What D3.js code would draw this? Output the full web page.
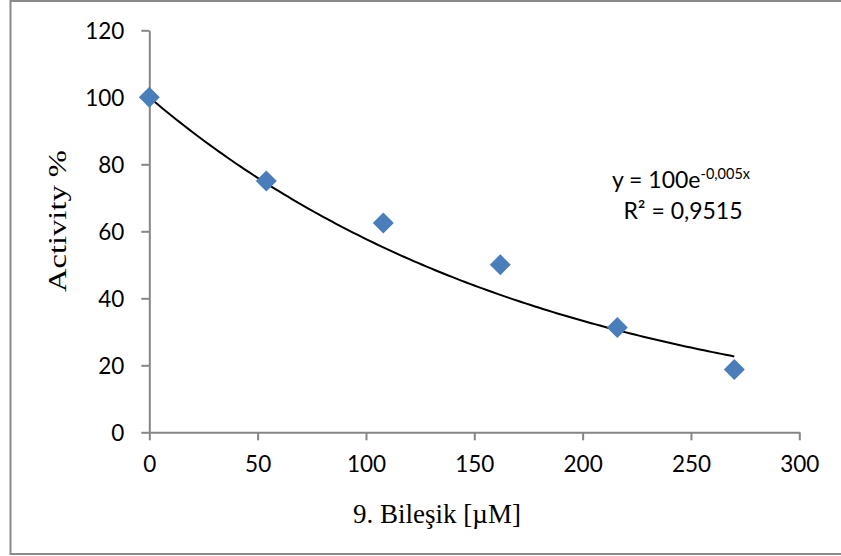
<!DOCTYPE html>
<html>
<head>
<meta charset="utf-8">
<script src="https://cdn.jsdelivr.net/npm/d3@7"></script>
<style>
  html, body { margin: 0; padding: 0; background: #fff; }
  svg { display: block; }
</style>
</head>
<body>
<svg id="chart" width="841" height="556"></svg>
<script>
// Concentration of compound 9 (µM) and remaining enzyme activity (%)
const concentrations = [0, 54, 108, 162, 216, 270];
const activity = [100, 75, 62.5, 50, 31.25, 18.75];

// Exponential trendline y = a·e^(−b·x), intercept fixed at 100
const trendA = 100;
const trendB = 0.0055;

// Axis ticks
const xTicks = [0, 50, 100, 150, 200, 250, 300];
const yTicks = [0, 20, 40, 60, 80, 100, 120];

const trendLabel = { base: "y = 100e", exp: "-0,005x", r2: "R² = 0,9515" };
const xTitle = "9. Bileşik [µM]";
const yTitle = "Activity %";

const svg = d3.select("#chart");
const plot = { left: 149.3, right: 799.3, top: 30.3, bottom: 432.3 };

const axisColor = "#868686";
const markColor = "#4a7ebb";
const tickFont = "Lato, 'Open Sans', sans-serif";
const titleFont = "'Liberation Serif', 'Times New Roman', serif";

// Outer chart border
svg.append("rect")
  .attr("x", 10.5).attr("y", 1)
  .attr("width", 850).attr("height", 553)
  .attr("fill", "#fff")
  .attr("stroke", "#8a8a8a")
  .attr("stroke-width", 2);

const x = d3.scaleLinear().domain([0, 300]).range([plot.left, plot.right]);
const y = d3.scaleLinear().domain([0, 120]).range([plot.bottom, plot.top]);

// X axis
const gx = svg.append("g")
  .attr("transform", `translate(0,${plot.bottom})`)
  .call(d3.axisBottom(x).tickValues(xTicks).tickSize(8).tickSizeOuter(0).tickPadding(10));
// Y axis
const gy = svg.append("g")
  .attr("transform", `translate(${plot.left},0)`)
  .call(d3.axisLeft(y).tickValues(yTicks).tickSize(8).tickSizeOuter(0).tickPadding(17));

[gx, gy].forEach(g => {
  g.select(".domain").attr("stroke", axisColor).attr("stroke-width", 2);
  g.selectAll(".tick line").attr("stroke", axisColor).attr("stroke-width", 2);
  g.selectAll(".tick text")
    .attr("fill", "#000")
    .style("font-family", tickFont)
    .style("font-size", "22.5px");
});
gx.selectAll(".tick text").attr("dy", "0.95em");
gy.selectAll(".tick text").attr("dy", "0.36em");

// Trendline
const trendXs = d3.range(0, 270 + 0.001, 2);
const line = d3.line()
  .x(d => x(d))
  .y(d => y(trendA * Math.exp(-trendB * d)));
svg.append("path")
  .datum(trendXs)
  .attr("d", line)
  .attr("fill", "none")
  .attr("stroke", "#000")
  .attr("stroke-width", 2);

// Data markers (diamonds)
const diamond = d3.symbol().type(d3.symbolSquare).size(220);
svg.append("g")
  .selectAll("path")
  .data(concentrations.map((c, i) => ({ c, v: activity[i] })))
  .join("path")
  .attr("d", diamond)
  .attr("transform", d => `translate(${x(d.c)},${y(d.v)}) rotate(45)`)
  .attr("fill", markColor);

// Trendline equation and R²
const eq = svg.append("text")
  .attr("x", 681).attr("y", 188)
  .attr("text-anchor", "middle")
  .style("font-family", tickFont)
  .style("font-size", "23px")
  .attr("fill", "#000");
eq.append("tspan").text(trendLabel.base);
eq.append("tspan")
  .attr("dy", -9)
  .style("font-size", "14.5px")
  .text(trendLabel.exp);

svg.append("text")
  .attr("x", 683).attr("y", 219)
  .attr("text-anchor", "middle")
  .style("font-family", tickFont)
  .style("font-size", "23px")
  .attr("fill", "#000")
  .text(trendLabel.r2);

// Axis titles
svg.append("text")
  .attr("x", 437).attr("y", 523)
  .attr("text-anchor", "middle")
  .style("font-family", titleFont)
  .style("font-size", "27px")
  .attr("fill", "#000")
  .text(xTitle);

svg.append("text")
  .attr("transform", "translate(66,221) rotate(-90)")
  .attr("text-anchor", "middle")
  .style("font-family", titleFont)
  .style("font-size", "25px")
  .attr("textLength", 142)
  .attr("lengthAdjust", "spacingAndGlyphs")
  .attr("fill", "#000")
  .text(yTitle);
</script>
</body>
</html>
